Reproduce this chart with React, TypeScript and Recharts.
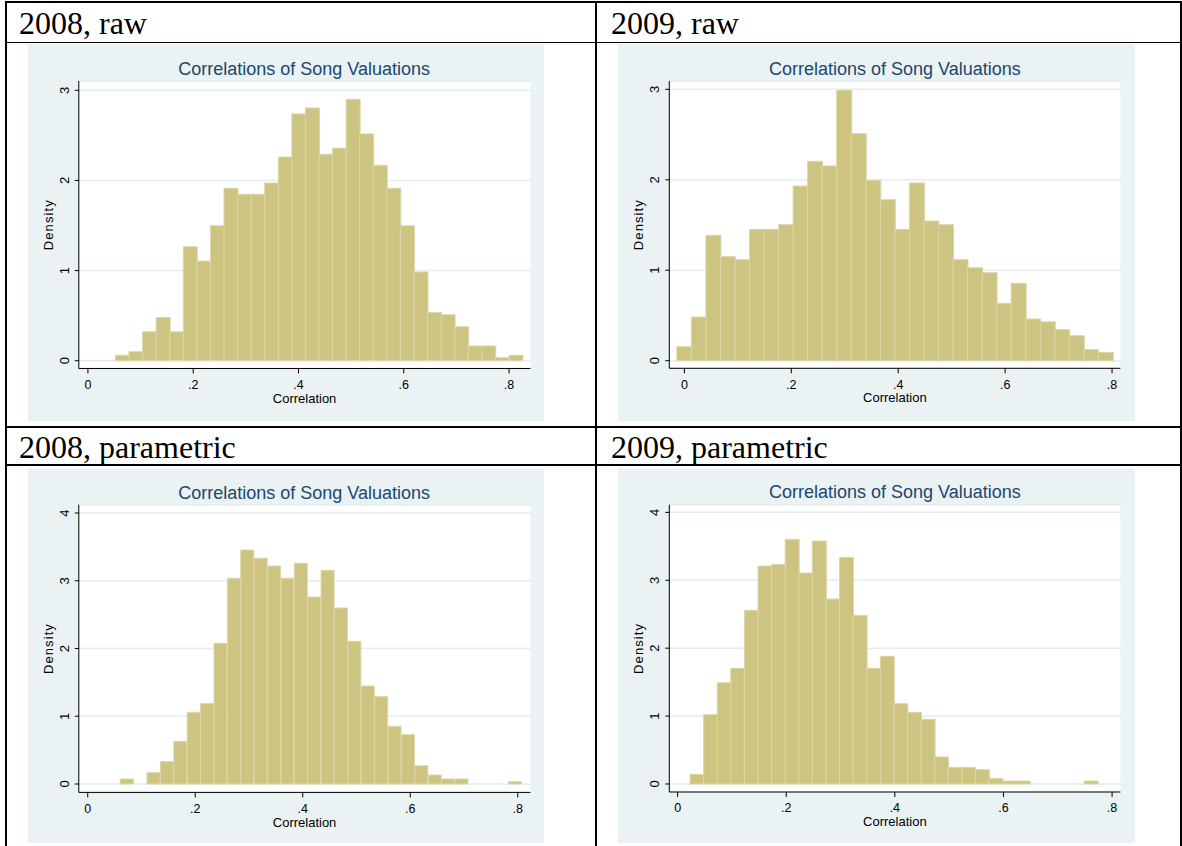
import React from "react";
import { BarChart, Bar, XAxis, YAxis, CartesianGrid } from "recharts";

// Histogram bins: first bin's lower edge, bin width, and density per bin (30 bins each)
const raw2008Start = 0.0524;
const raw2008Width = 0.02577;
const raw2008 = [
  0.06, 0.1, 0.32, 0.48, 0.32, 1.265, 1.106, 1.498, 1.913, 1.846,
  1.846, 1.972, 2.26, 2.738, 2.804, 2.29, 2.357, 2.9, 2.516, 2.168,
  1.913, 1.498, 0.984, 0.536, 0.51, 0.377, 0.163, 0.163, 0.033, 0.06,
];

const raw2009Start = -0.0141;
const raw2009Width = 0.02719;
const raw2009 = [
  0.155, 0.483, 1.386, 1.15, 1.117, 1.452, 1.452, 1.504, 1.931, 2.204,
  2.153, 2.989, 2.51, 1.994, 1.78, 1.452, 1.965, 1.544, 1.504, 1.117,
  1.028, 0.973, 0.634, 0.855, 0.461, 0.431, 0.343, 0.276, 0.122, 0.092,
];

const par2008Start = 0.0605;
const par2008Width = 0.02491;
const par2008 = [
  0.074, 0, 0.167, 0.33, 0.63, 1.058, 1.19, 2.076, 3.036, 3.454,
  3.331, 3.218, 3.036, 3.257, 2.76, 3.154, 2.598, 2.106, 1.446, 1.289,
  0.851, 0.728, 0.27, 0.133, 0.074, 0.074, 0, 0, 0, 0.034,
];

const par2009Start = 0.0229;
const par2009Width = 0.02502;
const par2009 = [
  0.142, 1.02, 1.492, 1.703, 2.557, 3.21, 3.234, 3.602, 3.107, 3.578,
  2.724, 3.337, 2.483, 1.703, 1.88, 1.183, 1.055, 0.952, 0.398, 0.245,
  0.245, 0.211, 0.083, 0.044, 0.044, 0, 0, 0, 0, 0.044,
];

const xTicks = [0, 0.2, 0.4, 0.6, 0.8];
const yTicksRaw = [0, 1, 2, 3];
const yTicksPar = [0, 1, 2, 3, 4];

const headers = ["2008, raw", "2009, raw", "2008, parametric", "2009, parametric"];
const chartTitle = "Correlations of Song Valuations";
const xLabel = "Correlation";
const yLabel = "Density";

const toBins = (start: number, width: number, heights: number[]) =>
  heights.map((d, i) => ({ x: start + (i + 0.5) * width, density: d > 0 ? d : null }));

const SANS = "'Liberation Sans', Arial, sans-serif";
const SERIF = "'Liberation Serif', 'Times New Roman', serif";
const BG = "#EAF2F3";

const fmtX = (v: number) => (v === 0 ? "0" : String(v).replace(/^0/, ""));

function YTick({ x, y, payload }: any) {
  return (
    <text
      x={x}
      y={y}
      transform={`rotate(-90 ${x} ${y})`}
      textAnchor="middle"
      fontSize={13}
      fontFamily={SANS}
      fill="#000"
    >
      {payload.value}
    </text>
  );
}

type PanelProps = {
  left: number;
  top: number;
  width: number;
  height: number;
  yAxisWidth: number;
  marginTop: number;
  marginRight: number;
  marginBottom: number;
  xDomain: [number, number];
  yDomain: [number, number];
  yTicks: number[];
  data: { x: number; density: number | null }[];
  titleBaseline: number;
  xLabelDy: number;
};

function Histogram(p: PanelProps) {
  const plotWidth = p.width - p.yAxisWidth - p.marginRight;
  return (
    <div
      style={{
        position: "absolute",
        left: p.left,
        top: p.top,
        width: p.width,
        height: p.height,
        background: BG,
      }}
    >
      <div
        style={{
          position: "absolute",
          left: p.yAxisWidth,
          width: plotWidth,
          top: p.titleBaseline - 15.24,
          textAlign: "center",
          fontFamily: SANS,
          fontSize: 18,
          lineHeight: "18px",
          color: "#1A476F",
          whiteSpace: "nowrap",
        }}
      >
        {chartTitle}
      </div>
      <BarChart
        width={p.width}
        height={p.height}
        data={p.data}
        margin={{ top: p.marginTop, right: p.marginRight, bottom: p.marginBottom, left: 0 }}
        barCategoryGap={0}
        barGap={0}
      >
        <CartesianGrid vertical={false} fill="#ffffff" stroke="#E3ECEE" strokeWidth={1.5} />
        <XAxis
          dataKey="x"
          type="number"
          domain={p.xDomain}
          allowDataOverflow
          ticks={xTicks}
          interval={0}
          tickFormatter={fmtX}
          height={40}
          tickSize={5}
          tickMargin={6.5}
          axisLine={{ stroke: "#000" }}
          tickLine={{ stroke: "#000" }}
          tick={{ fontSize: 12.5, fontFamily: SANS, fill: "#000" }}
          label={{
            value: xLabel,
            position: "center",
            dy: p.xLabelDy,
            fontSize: 13,
            fontFamily: SANS,
            fill: "#000",
          }}
        />
        <YAxis
          type="number"
          domain={p.yDomain}
          allowDataOverflow
          ticks={p.yTicks}
          interval={0}
          width={p.yAxisWidth}
          tickSize={4}
          tickMargin={6}
          axisLine={{ stroke: "#000" }}
          tickLine={{ stroke: "#000" }}
          tick={<YTick />}
          label={{
            value: yLabel,
            angle: -90,
            position: "center",
            dx: -5,
            fontSize: 13,
            fontFamily: SANS,
            fill: "#000",
            letterSpacing: 1.1,
          }}
        />
        <Bar
          dataKey="density"
          fill="#CCC480"
          stroke="#DCD7A8"
          strokeWidth={1}
          isAnimationActive={false}
        />
      </BarChart>
    </div>
  );
}

const line = (left: number, top: number, width: number, height: number) => (
  <div style={{ position: "absolute", left, top, width, height, background: "#000" }} />
);

function Header({ left, top, text }: { left: number; top: number; text: string }) {
  return (
    <div
      style={{
        position: "absolute",
        left,
        top,
        fontFamily: SERIF,
        fontSize: 32,
        lineHeight: "32px",
        color: "#000",
        whiteSpace: "nowrap",
      }}
    >
      {text}
    </div>
  );
}

export default function App() {
  return (
    <div
      style={{
        position: "absolute",
        left: 0,
        top: 0,
        width: 1182,
        height: 846,
        background: "#fff",
        overflow: "hidden",
      }}
    >
      {line(5, 1, 1177, 2)}
      {line(5, 41.5, 1177, 1.6)}
      {line(5, 426, 1177, 1.8)}
      {line(5, 464.2, 1177, 1.6)}
      {line(5, 1, 1.8, 845)}
      {line(595, 1, 1.6, 845)}
      {line(1180, 1, 2, 845)}

      <Header left={19} top={6.5} text={headers[0]} />
      <Header left={611} top={6.5} text={headers[1]} />
      <Header left={19} top={430.5} text={headers[2]} />
      <Header left={611} top={430.5} text={headers[3]} />

      <Histogram
        left={27.6}
        top={44}
        width={516.4}
        height={377}
        yAxisWidth={50.8}
        marginTop={37}
        marginRight={14}
        marginBottom={12.5}
        xDomain={[-0.0173, 0.8405]}
        yDomain={[-0.0865, 3.103]}
        yTicks={yTicksRaw}
        data={toBins(raw2008Start, raw2008Width, raw2008)}
        titleBaseline={31}
        xLabelDy={9.5}
      />
      <Histogram
        left={618}
        top={44}
        width={517}
        height={377}
        yAxisWidth={51.3}
        marginTop={37}
        marginRight={14.6}
        marginBottom={12.7}
        xDomain={[-0.0282, 0.8156]}
        yDomain={[-0.084, 3.092]}
        yTicks={yTicksRaw}
        data={toBins(raw2009Start, raw2009Width, raw2009)}
        titleBaseline={31}
        xLabelDy={9.5}
      />
      <Histogram
        left={27.6}
        top={468.3}
        width={516.4}
        height={375}
        yAxisWidth={50.8}
        marginTop={36.7}
        marginRight={14}
        marginBottom={10.6}
        xDomain={[-0.0166, 0.8235]}
        yDomain={[-0.124, 4.1225]}
        yTicks={yTicksPar}
        data={toBins(par2008Start, par2008Width, par2008)}
        titleBaseline={30.7}
        xLabelDy={9.5}
      />
      <Histogram
        left={618}
        top={468.3}
        width={517}
        height={375}
        yAxisWidth={51.3}
        marginTop={36.7}
        marginRight={14.6}
        marginBottom={11}
        xDomain={[-0.0153, 0.8153]}
        yDomain={[-0.118, 4.113]}
        yTicks={yTicksPar}
        data={toBins(par2009Start, par2009Width, par2009)}
        titleBaseline={30}
        xLabelDy={9.5}
      />
    </div>
  );
}
